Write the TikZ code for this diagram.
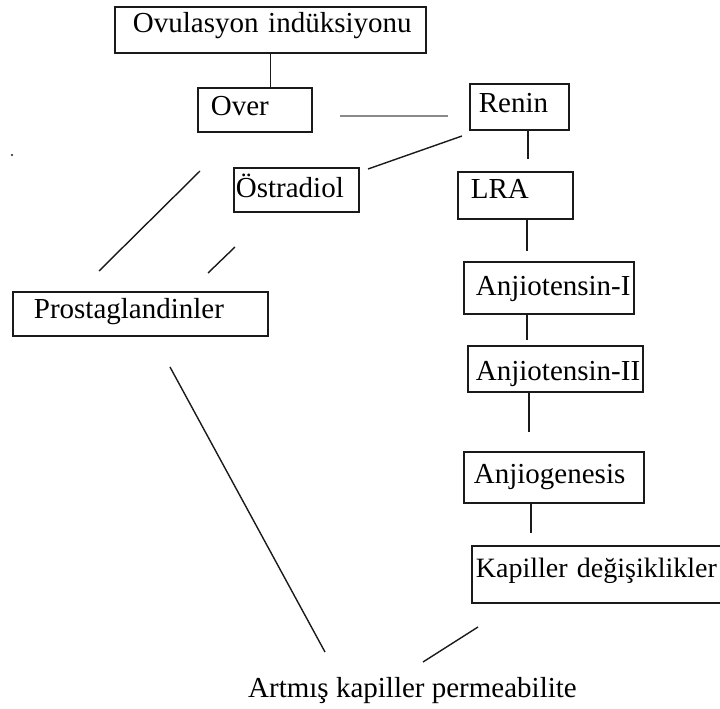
\documentclass[tikz,border=0pt]{standalone}
\usepackage{fontspec}
\setmainfont{Liberation Serif}
\usepackage{tikz}
\definecolor{cLine}{HTML}{1A1A1A}
\definecolor{cGrayLine}{HTML}{8A8A8A}
\exhyphenpenalty=10000
\hyphenpenalty=10000

\begin{document}
\begin{tikzpicture}[x=1pt, y=-1pt,
    kutu/.style={draw=cLine, line width=1.8pt, anchor=north west, inner ysep=0pt,
      align=left, font=\fontsize{29}{34}\selectfont},
    hat/.style={draw=cLine, line width=1.4pt}]
  \clip (0,0) rectangle (720,709);

  % kutular
  \node[kutu, inner xsep=18pt, text width=275pt, text height=26pt, text depth=20pt]
    (ovul) at (114,6) {Ovulasyon~indüksiyonu};
  \node[kutu, inner xsep=13pt, text width=88pt, text height=28pt, text depth=16pt]
    (over) at (197,87) {Over};
  \node[kutu, inner xsep=9pt, text width=81pt, text height=29pt, text depth=17pt]
    (renin) at (469,83) {Renin};
  \node[kutu, inner xsep=2pt, text width=121pt, text height=30pt, text depth=14pt]
    (ostr) at (233,167) {Östradiol};
  \node[kutu, inner xsep=13pt, text width=89pt, text height=27pt, text depth=20pt]
    (lra) at (457,171) {LRA};
  \node[kutu, inner xsep=21pt, text width=213pt, text height=27pt, text depth=17pt]
    (prost) at (12,291) {Prostaglandinler};
  \node[kutu, inner xsep=12pt, text width=146pt, text height=34pt, text depth=18pt]
    (anjI) at (463,261) {Anjiotensin-I};
  \node[kutu, inner xsep=8pt, text width=159pt, text height=35pt, text depth=11pt]
    (anjII) at (467,345) {Anjiotensin-II};
  \node[kutu, inner xsep=10pt, text width=160pt, text height=32pt, text depth=19pt]
    (anjgen) at (463,451) {Anjiogenesis};
  \node[kutu, inner xsep=4pt, text width=262pt, text height=32pt, text depth=25pt,
    font=\fontsize{28}{33}\selectfont]
    (kapil) at (471,545) {Kapiller~değişiklikler};
  \node[anchor=base west, inner sep=0pt, font=\fontsize{29}{34}\selectfont]
    (artmis) at (248,697) {Artmış kapiller permeabilite};

  % serbest uclar
  \coordinate (reninUc) at (528,159);
  \coordinate (lraUc) at (527,251);
  \coordinate (anjIUc) at (527,340);
  \coordinate (anjIIUc) at (529,432);
  \coordinate (anjgenUc) at (531,533);
  \coordinate (griA) at (340,116);
  \coordinate (griB) at (448,116);
  \coordinate (ostrA) at (462,136);
  \coordinate (ostrB) at (368,169);
  \coordinate (prostA) at (200,171);
  \coordinate (prostB) at (99,271);
  \coordinate (prostC) at (235,247);
  \coordinate (prostD) at (208,273);
  \coordinate (artA) at (170,367);
  \coordinate (artB) at (325,652);
  \coordinate (artC) at (478,627);
  \coordinate (artD) at (423,662);

  % cizgiler
  \draw[hat] (ovul.south) -- (ovul.south |- over.north);
  \draw[draw=cGrayLine, line width=2pt] (griA) -- (griB);
  \draw[hat] (renin.south -| reninUc) -- (reninUc);
  \draw[hat] (ostrA) -- (ostrB);
  \draw[hat] (prostA) -- (prostB);
  \draw[hat] (prostC) -- (prostD);
  \draw[hat] (lra.south -| lraUc) -- (lraUc);
  \draw[hat] (anjI.south -| anjIUc) -- (anjIUc);
  \draw[hat] (anjII.south -| anjIIUc) -- (anjIIUc);
  \draw[hat] (anjgen.south -| anjgenUc) -- (anjgenUc);
  \draw[hat] (artA) -- (artB);
  \draw[hat] (artC) -- (artD);
  \fill[cLine] (12,155) circle (1.2pt);
\end{tikzpicture}
\end{document}
